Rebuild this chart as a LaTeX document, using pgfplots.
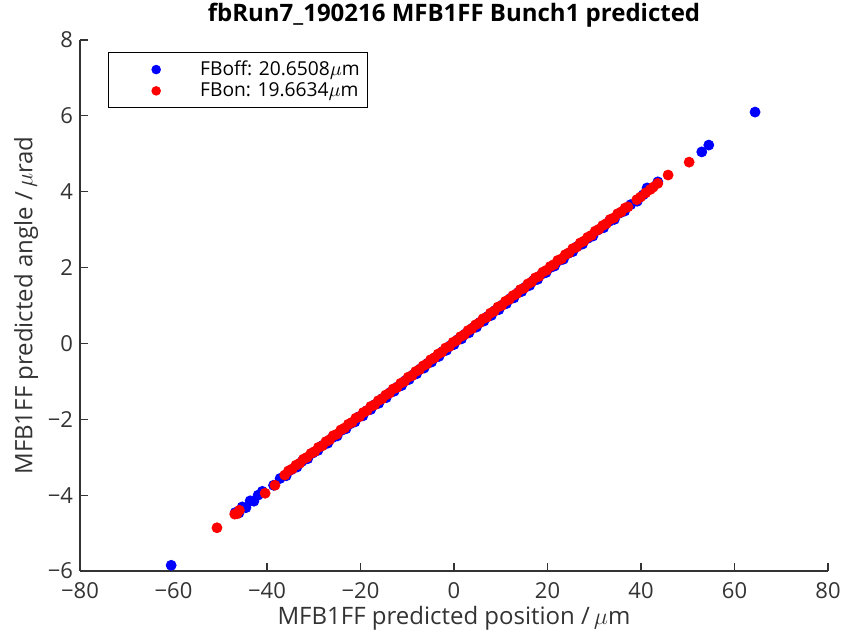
\documentclass[border=0pt]{standalone}
\usepackage{fontspec}
\setmainfont{Open Sans}
\usepackage{pgfplots}
\pgfplotsset{compat=1.18}
\definecolor{mblue}{RGB}{0,0,255}
\definecolor{mred}{RGB}{255,0,0}

\begin{document}
\begin{tikzpicture}
\path[use as bounding box] (-40pt,-36pt) rectangle (384pt,285.5pt);
\begin{axis}[
    at={(0,0)}, anchor=south west,
    scale only axis,
    width=374pt, height=265.5pt,
    xmin=-80, xmax=80, ymin=-6, ymax=8,
    xtick={-80,-60,...,80},
    xticklabels={−80,−60,−40,−20,0,20,40,60,80},
    ytick={-6,-4,...,8},
    yticklabels={−6,−4,−2,0,2,4,6,8},
    axis lines*=left,
    axis line style={black!80, line width=0.6pt},
    tick style={black!80, line width=0.6pt},
    major tick length=4pt,
    tick align=inside,
    tick label style={font=\fontsize{11}{13}\selectfont, text=black!80},
    xticklabel style={yshift=-2pt},
    xlabel={MFB1FF predicted position /\,$\mu$m},
    ylabel={MFB1FF predicted angle /\,$\mu$rad},
    label style={font=\fontsize{12}{14}\selectfont, text=black!80},
    xlabel style={yshift=3pt},
    ylabel style={yshift=-2pt},
    title={\textbf{fbRun7\_190216 MFB1FF Bunch1 predicted}},
    title style={font=\fontsize{12}{14}\selectfont, yshift=-3pt},
    legend style={at={(0.037,0.977)}, anchor=north west,
        font=\fontsize{9.6}{12}\selectfont, draw=black, line width=0.5pt,
        legend cell align=left, inner xsep=2pt, inner ysep=2pt,
        row sep=-2pt,
        /tikz/every odd column/.append style={column sep=12pt}},
    legend image code/.code={
        \path[draw=none] (0pt,0pt) -- (30pt,0pt);
        \fill[#1, draw=none] (22pt,0pt) circle (2.4pt);},
    clip=false,
]
\addplot[only marks, mark=*, mark size=2.5pt, color=mblue] coordinates {
(-60.5,-5.85) (-46.8,-4.46) (-46.0,-4.47) (-45.3,-4.31) (-44.5,-4.33) (-43.6,-4.15)
(-42.8,-4.16) (-41.9,-4.00) (-41.0,-3.90) (-38.6,-3.74) (-37.2,-3.56) (-35.9,-3.49)
(-34.8,-3.33) (-33.6,-3.26) (-32.5,-3.11) (-31.3,-3.04) (-30.2,-2.89) (-29.1,-2.82)
(-28.0,-2.68) (-27.0,-2.63) (-26.1,-2.49) (-25.0,-2.44) (-24.0,-2.29) (-23.1,-2.25)
(-22.2,-2.12) (-21.2,-2.07) (-20.3,-1.93) (-19.5,-1.91) (-18.6,-1.77) (-17.8,-1.74)
(-16.9,-1.61) (-16.1,-1.58) (-15.3,-1.45) (-14.5,-1.43) (-13.6,-1.29) (-12.8,-1.26)
(-12.0,-1.14) (-11.2,-1.11) (-10.4,-0.98) (-9.6,-0.95) (-8.8,-0.83) (-8.0,-0.80)
(-7.2,-0.67) (-6.4,-0.65) (-5.6,-0.52) (-4.8,-0.49) (-4.0,-0.37) (-3.2,-0.34)
(-2.4,-0.21) (-1.6,-0.18) (-0.8,-0.06) (0.0,-0.03) (0.8,0.10) (1.6,0.12)
(2.4,0.25) (3.2,0.28) (4.0,0.41) (4.8,0.43) (5.6,0.56) (6.4,0.59)
(7.2,0.71) (8.0,0.74) (8.8,0.87) (9.6,0.89) (10.4,1.02) (11.2,1.05)
(12.0,1.18) (12.8,1.20) (13.7,1.34) (14.5,1.37) (15.3,1.49) (16.2,1.53)
(17.0,1.66) (17.9,1.69) (18.8,1.83) (19.7,1.87) (20.6,2.00) (21.5,2.04)
(22.4,2.18) (23.4,2.22) (24.4,2.37) (25.4,2.42) (26.4,2.56) (27.5,2.62)
(28.6,2.77) (29.7,2.83) (30.8,2.99) (32.0,3.05) (33.2,3.22) (34.3,3.27)
(35.5,3.44) (36.5,3.49) (37.8,3.66) (39.2,3.75) (40.5,3.92) (41.3,4.10)
(43.6,4.26) (53.0,5.05) (54.5,5.23) (64.4,6.10)
};
\addlegendentry{FBoff: 20.6508$\mu$m}
\addplot[only marks, mark=*, mark size=2.5pt, color=mred] coordinates {
(-50.7,-4.86) (-46.9,-4.50) (-46.4,-4.49) (-45.9,-4.40) (-40.4,-3.95) (-38.3,-3.74)
(-36.2,-3.47) (-35.4,-3.36) (-34.6,-3.31) (-33.8,-3.21) (-33.0,-3.16) (-32.2,-3.05)
(-31.4,-3.00) (-30.6,-2.90) (-29.8,-2.85) (-29.0,-2.74) (-28.2,-2.70) (-27.4,-2.59)
(-26.6,-2.54) (-25.8,-2.43) (-25.0,-2.39) (-24.2,-2.28) (-23.4,-2.23) (-22.6,-2.13)
(-21.8,-2.08) (-21.0,-1.97) (-20.2,-1.93) (-19.4,-1.82) (-18.6,-1.77) (-17.8,-1.66)
(-17.0,-1.62) (-16.2,-1.51) (-15.4,-1.46) (-14.6,-1.36) (-13.8,-1.31) (-13.0,-1.20)
(-12.2,-1.16) (-11.4,-1.05) (-10.6,-1.00) (-9.8,-0.89) (-9.0,-0.85) (-8.2,-0.74)
(-7.4,-0.69) (-6.6,-0.59) (-5.8,-0.54) (-5.0,-0.43) (-4.2,-0.38) (-3.4,-0.28)
(-2.6,-0.23) (-1.8,-0.12) (-1.0,-0.08) (-0.2,0.03) (0.6,0.08) (1.4,0.18)
(2.2,0.23) (3.0,0.34) (3.8,0.39) (4.6,0.49) (5.4,0.54) (6.2,0.65)
(7.0,0.69) (7.8,0.80) (8.6,0.85) (9.4,0.96) (10.2,1.00) (11.0,1.11)
(11.8,1.16) (12.6,1.26) (13.4,1.31) (14.2,1.42) (15.0,1.46) (15.8,1.57)
(16.6,1.62) (17.4,1.73) (18.2,1.77) (19.0,1.88) (19.8,1.93) (20.6,2.03)
(21.4,2.08) (22.2,2.19) (23.0,2.23) (23.8,2.34) (24.6,2.39) (25.4,2.50)
(26.2,2.54) (27.0,2.65) (27.8,2.70) (28.6,2.80) (29.4,2.85) (30.2,2.96)
(31.0,3.01) (31.8,3.11) (32.6,3.16) (33.4,3.27) (34.2,3.31) (35.0,3.42)
(35.8,3.47) (36.6,3.57) (37.2,3.60) (39.1,3.79) (39.9,3.86) (41.0,3.97)
(42.0,4.06) (42.6,4.12) (43.6,4.22) (45.8,4.44) (50.3,4.78)
};
\addlegendentry{FBon: 19.6634$\mu$m}
\end{axis}
\end{tikzpicture}
\end{document}
